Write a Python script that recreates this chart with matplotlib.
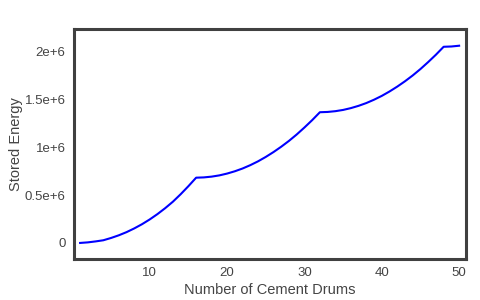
import matplotlib
matplotlib.use("Agg")
import matplotlib.pyplot as plt

# Number of drums and stored energy
drums = list(range(1, 51))
energy = [
    0, 6000, 16000, 28000, 52000, 80000, 113000, 152000, 196000, 246000,
    302000, 364000, 432000, 510000, 594000, 683000, 686000, 694000, 707000, 726000,
    750000, 779000, 814000, 854000, 900000, 951000, 1007000, 1068000, 1135000, 1208000,
    1285000, 1368000, 1371000, 1379000, 1392000, 1411000, 1435000, 1464000, 1499000, 1539000,
    1585000, 1636000, 1692000, 1753000, 1820000, 1893000, 1970000, 2053000, 2056000, 2064000,
]
ytick_vals = [0, 0.5e6, 1e6, 1.5e6, 2e6]
ytick_labels = ["0", "0.5e+6", "1e+6", "1.5e+6", "2e+6"]
xtick_vals = [10, 20, 30, 40, 50]

plt.rcParams["font.family"] = ["Liberation Sans", "DejaVu Sans"]

fig = plt.figure(figsize=(4.8, 3.0), dpi=100)
ax = fig.add_axes([0.154, 0.137, 0.817, 0.766])

ax.plot(drums, energy, color="#0000ff", linewidth=1.5)

ax.set_xlim(0.2, 50.9)
ax.set_ylim(-0.167e6, 2.238e6)
ax.set_xticks(xtick_vals)
ax.set_yticks(ytick_vals)
ax.set_yticklabels(ytick_labels)
ax.tick_params(length=0, labelsize=9.5, labelcolor="#444444", pad=6)

for s in ax.spines.values():
    s.set_color("#404040")
    s.set_linewidth(2.2)

ax.set_xlabel("Number of Cement Drums", fontsize=10.5, color="#444444", labelpad=3)
ax.set_ylabel("Stored Energy", fontsize=10.5, color="#444444", labelpad=1)

fig.savefig("out.png", dpi=100)
